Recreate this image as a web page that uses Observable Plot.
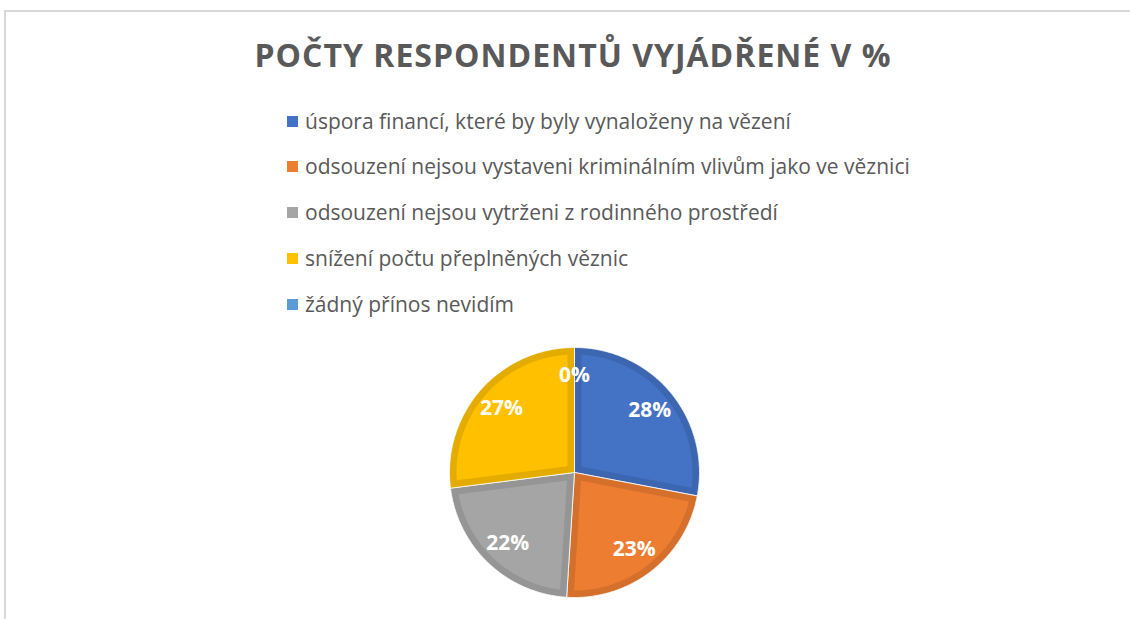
<!DOCTYPE html>
<html>
<head>
<meta charset="utf-8">
<script src="https://cdn.jsdelivr.net/npm/d3@7"></script>
<script src="https://cdn.jsdelivr.net/npm/@observablehq/plot@0.6"></script>
<style>
  html, body { margin: 0; padding: 0; background: #fff; }
  #wrap { position: relative; width: 1130px; height: 619px; overflow: hidden; font-family: "Open Sans", sans-serif; }
  #frame { position: absolute; left: 4px; top: 10px; width: 1140px; height: 700px; border-left: 2px solid #d9d9d9; border-top: 2px solid #d9d9d9; }
  #title { position: absolute; left: 0; width: 1146px; top: 33px; text-align: center; font-weight: 700; font-size: 32px; color: #595959; letter-spacing: 1px; white-space: nowrap; }
  .row { position: absolute; left: 287px; height: 30px; display: flex; align-items: center; white-space: nowrap; color: #595959; font-size: 21px; }
  .sw { width: 11px; height: 11px; margin-right: 7px; flex: none; }
  #plot { position: absolute; left: 0; top: 0; }
</style>
</head>
<body>
<div id="wrap">
  <div id="frame"></div>
  <div id="plot"></div>
  <div id="title"></div>
  <div id="legend"></div>
</div>
<script>
const title = "POČTY RESPONDENTŮ VYJÁDŘENÉ V %";
const categories = [
  "úspora financí, které by byly vynaloženy na vězení",
  "odsouzení nejsou vystaveni kriminálním vlivům jako ve věznici",
  "odsouzení nejsou vytrženi z rodinného prostředí",
  "snížení počtu přeplněných věznic",
  "žádný přínos nevidím"
];
const values = [28, 23, 22, 27, 0];
const labels = ["28%", "23%", "22%", "27%", "0%"];
const colors = ["#4472C4", "#ED7D31", "#A5A5A5", "#FFC000", "#5B9BD5"];
const borderColors = ["#3D66B0", "#D4702B", "#959595", "#E5AC00", "#528BC0"];
const legendY = [121, 166, 212, 258, 304];

document.getElementById("title").textContent = title;
const legend = document.getElementById("legend");
categories.forEach((c, i) => {
  const row = document.createElement("div");
  row.className = "row";
  row.style.top = (legendY[i] - 15) + "px";
  row.innerHTML = `<span class="sw" style="background:${colors[i]}"></span><span></span>`;
  row.lastChild.textContent = c;
  legend.appendChild(row);
});

// pie geometry in data units (radius 1)
const pxu = 2 / 250;          // data units per pixel
const cx = 574, cy = 472;     // pie centre in pixels
const W = 1130, H = 619;
const xDomain = [-cx * pxu, (W - cx) * pxu];
const yDomain = [-(H - cy) * pxu, cy * pxu];

const arcs = d3.pie().sort(null).value(d => d.value)(values.map((v, i) => ({value: v, i})));
const pt = (a, r) => [r * Math.sin(a), r * Math.cos(a)];
const outer = [], inner = [], labelPts = [];
const d = 7 * pxu;
arcs.forEach(a => {
  const i = a.data.i;
  const a0 = a.startAngle, a1 = a.endAngle;
  const mid = (a0 + a1) / 2;
  const [lx, ly] = pt(mid, 0.78);
  labelPts.push({x: lx, y: ly, label: labels[i]});
  if (a1 - a0 <= 0) return;
  const n = Math.max(4, Math.ceil((a1 - a0) / 0.01));
  outer.push({x: 0, y: 0, i});
  for (let k = 0; k <= n; k++) {
    const [x, y] = pt(a0 + (a1 - a0) * k / n, 1);
    outer.push({x, y, i});
  }
  outer.push({x: 0, y: 0, i});
  // inset polygon
  const th = a1 - a0;
  const Ri = 1 - d;
  const off = Math.asin(d / Ri);
  const cd = d / Math.sin(th / 2);
  const [c0x, c0y] = pt(mid, cd);
  inner.push({x: c0x, y: c0y, i});
  for (let k = 0; k <= n; k++) {
    const [x, y] = pt(a0 + off + (th - 2 * off) * k / n, Ri);
    inner.push({x, y, i});
  }
  inner.push({x: c0x, y: c0y, i});
});

const chart = Plot.plot({
  width: W,
  height: H,
  margin: 0,
  x: {domain: xDomain, axis: null},
  y: {domain: yDomain, axis: null},
  style: {background: "transparent"},
  marks: [
    Plot.line(outer, {x: "x", y: "y", z: "i", fill: d => borderColors[d.i], stroke: "#ffffff", strokeWidth: 1, strokeOpacity: 0.8, curve: "linear"}),
    Plot.line(inner, {x: "x", y: "y", z: "i", fill: d => colors[d.i], stroke: "none", curve: "linear"}),
    Plot.text(labelPts, {x: "x", y: "y", text: "label", fill: "#ffffff", fontSize: 21, fontWeight: 700, fontFamily: "Open Sans"})
  ]
});
document.getElementById("plot").appendChild(chart);
</script>
</body>
</html>
